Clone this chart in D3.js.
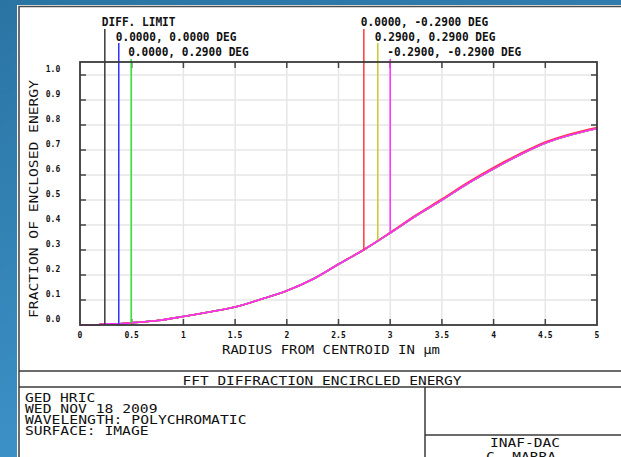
<!DOCTYPE html>
<html>
<head>
<meta charset="utf-8">
<script src="https://cdn.jsdelivr.net/npm/d3@7"></script>
<style>
  body { margin: 0; background: #2f80b2; }
  text { font-family: "DejaVu Sans Mono", monospace; fill: #111; }
</style>
</head>
<body>
<div id="chart"></div>
<script>
// encircled energy curves (radius in microns)
const radius = [0, 0.18, 0.2, 0.38, 0.5, 0.75, 1.0, 1.25, 1.5, 1.75, 2.0, 2.25, 2.5, 2.75, 3.0, 3.25, 3.5, 3.75, 4.0, 4.25, 4.5, 4.75, 5.0];
const eeCommon = [0, 0, 0.004, 0.005, 0.009, 0.018, 0.034, 0.052, 0.072, 0.103, 0.137, 0.183, 0.243, 0.302, 0.368, 0.437, 0.500, 0.566, 0.625, 0.680, 0.728, 0.761, 0.786];
const eeRed = [0, 0, 0.004, 0.005, 0.009, 0.018, 0.034, 0.052, 0.072, 0.103, 0.137, 0.183, 0.244, 0.303, 0.370, 0.440, 0.504, 0.570, 0.630, 0.684, 0.732, 0.765, 0.790];

const fieldNames = ["DIFF. LIMIT", "0.0000, 0.0000 DEG", "0.0000, 0.2900 DEG", "0.0000, -0.2900 DEG", "0.2900, 0.2900 DEG", "-0.2900, -0.2900 DEG"];
const fieldColors = ["#3a3a3a", "#3030ff", "#30dd30", "#ff3a3a", "#c8c830", "#ff30ff"];
const markerRadius = [0.24, 0.375, 0.495, 2.745, 2.88, 3.0];
const markerEE = [0.0, 0.004, 0.008, 0.30, 0.34, 0.37];
const fieldCurves = [eeCommon, eeCommon, eeCommon, eeRed, eeCommon, eeCommon];

const xTicks = [0, 0.5, 1, 1.5, 2, 2.5, 3, 3.5, 4, 4.5, 5];
const yTicks = [0, 0.1, 0.2, 0.3, 0.4, 0.5, 0.6, 0.7, 0.8, 0.9, 1.0];

const infoLines = ["GED HRIC", "WED NOV 18 2009", "WAVELENGTH: POLYCHROMATIC", "SURFACE: IMAGE"];

const W = 621, H = 457;
const plot = { left: 80, right: 597, top: 62, bottom: 325 };

const svg = d3.select("#chart").append("svg")
    .attr("width", W)
    .attr("height", H);

const grad = svg.append("defs").append("linearGradient")
    .attr("id", "bg").attr("x1", 0).attr("y1", 0).attr("x2", 0.3).attr("y2", 1);
grad.append("stop").attr("offset", 0).attr("stop-color", "#2a74a3");
grad.append("stop").attr("offset", 1).attr("stop-color", "#3d93c9");

svg.append("rect").attr("width", W).attr("height", H).attr("fill", "url(#bg)");

// white window
svg.append("rect").attr("x", 17).attr("y", 5).attr("width", W - 17).attr("height", H - 5).attr("fill", "white");
svg.append("path").attr("d", `M19,${H} V6.5 H${W}`).attr("fill", "none").attr("stroke", "#4a4a4a").attr("stroke-width", 1.6);

const x = d3.scaleLinear().domain([0, 5]).range([plot.left, plot.right]);
const y = d3.scaleLinear().domain([0, 1]).range([plot.bottom, 75]);

// grid
svg.append("g").selectAll("line").data(xTicks.slice(1, -1)).join("line")
    .attr("x1", d => x(d)).attr("x2", d => x(d))
    .attr("y1", plot.top).attr("y2", plot.bottom)
    .attr("stroke", "#e6e6e6").attr("stroke-width", 1.5);
svg.append("g").selectAll("line").data(yTicks.slice(1)).join("line")
    .attr("x1", plot.left).attr("x2", plot.right)
    .attr("y1", d => y(d)).attr("y2", d => y(d))
    .attr("stroke", "#e6e6e6").attr("stroke-width", 1.5);

// tick marks on all four sides, pointing inward
const tk = 6;
const ticks = svg.append("g").attr("stroke", "#444").attr("stroke-width", 1.5);
xTicks.slice(1, -1).forEach(d => {
    ticks.append("line").attr("x1", x(d)).attr("x2", x(d)).attr("y1", plot.top).attr("y2", plot.top + tk);
    ticks.append("line").attr("x1", x(d)).attr("x2", x(d)).attr("y1", plot.bottom).attr("y2", plot.bottom - tk);
});
yTicks.slice(1).forEach(d => {
    ticks.append("line").attr("x1", plot.left).attr("x2", plot.left + tk).attr("y1", y(d)).attr("y2", y(d));
    ticks.append("line").attr("x1", plot.right).attr("x2", plot.right - tk).attr("y1", y(d)).attr("y2", y(d));
});

// tick labels
svg.append("g").selectAll("text").data(xTicks).join("text")
    .attr("x", d => x(d)).attr("y", 338)
    .attr("text-anchor", "middle")
    .attr("font-size", 8).attr("font-weight", "bold")
    .text(d => d);
svg.append("g").selectAll("text").data(yTicks).join("text")
    .attr("x", 53).attr("y", d => y(d) - 3)
    .attr("text-anchor", "middle")
    .attr("font-size", 8).attr("font-weight", "bold")
    .text(d => d.toFixed(1));

// curves
const line = d3.line()
    .x((_, i) => x(radius[i]))
    .y(d => y(d))
    .curve(d3.curveMonotoneX);
// draw red before magenta so magenta sits on top like the original
const order = [0, 1, 2, 4, 3, 5];
order.forEach(i => {
    svg.append("path")
        .datum(fieldCurves[i])
        .attr("fill", "none")
        .attr("stroke", fieldColors[i])
        .attr("stroke-width", 1.6)
        .attr("d", line);
});

// marker lines + field labels
const labelTop = [29, 43, 59, 29, 43, 59];
const labelBase = [26, 41, 56, 26, 41, 56];
fieldNames.forEach((name, i) => {
    svg.append("line")
        .attr("x1", x(markerRadius[i])).attr("x2", x(markerRadius[i]))
        .attr("y1", labelTop[i]).attr("y2", y(markerEE[i]))
        .attr("stroke", fieldColors[i]).attr("stroke-width", 1.5);
    svg.append("text")
        .attr("x", x(markerRadius[i]) - 3).attr("y", labelBase[i])
        .attr("font-size", 11.5).attr("font-weight", "bold")
        .attr("textLength", name.length * 6.7).attr("lengthAdjust", "spacingAndGlyphs")
        .text(name);
});

// plot frame
svg.append("rect")
    .attr("x", plot.left).attr("y", plot.top)
    .attr("width", plot.right - plot.left).attr("height", plot.bottom - plot.top)
    .attr("fill", "none").attr("stroke", "#3a3a3a").attr("stroke-width", 1.8);

// axis titles
svg.append("text")
    .attr("x", 331).attr("y", 354)
    .attr("text-anchor", "middle").attr("font-size", 13)
    .attr("textLength", 218).attr("lengthAdjust", "spacingAndGlyphs")
    .text("RADIUS FROM CENTROID IN \u00b5m");
svg.append("text")
    .attr("transform", "translate(38,199) rotate(-90)")
    .attr("text-anchor", "middle").attr("font-size", 13)
    .attr("textLength", 238).attr("lengthAdjust", "spacingAndGlyphs")
    .text("FRACTION OF ENCLOSED ENERGY");

// info box at bottom
const box = svg.append("g").attr("stroke", "#3a3a3a").attr("stroke-width", 1.5);
box.append("line").attr("x1", 19).attr("x2", W).attr("y1", 371).attr("y2", 371);
box.append("line").attr("x1", 19).attr("x2", W).attr("y1", 387).attr("y2", 387);
box.append("line").attr("x1", 425).attr("x2", 425).attr("y1", 387).attr("y2", H);
box.append("line").attr("x1", 425).attr("x2", W).attr("y1", 435).attr("y2", 435);

svg.append("text")
    .attr("x", 322).attr("y", 385)
    .attr("text-anchor", "middle").attr("font-size", 13)
    .attr("textLength", 279).attr("lengthAdjust", "spacingAndGlyphs")
    .text("FFT DIFFRACTION ENCIRCLED ENERGY");

svg.append("g").selectAll("text").data(infoLines).join("text")
    .attr("x", 25).attr("y", (_, i) => 401.5 + i * 11.3)
    .attr("font-size", 11.5)
    .attr("textLength", d => d.length * 8.9 - 1).attr("lengthAdjust", "spacingAndGlyphs")
    .text(d => d);

svg.append("text")
    .attr("x", 525).attr("y", 447)
    .attr("text-anchor", "middle").attr("font-size", 12)
    .attr("textLength", 70).attr("lengthAdjust", "spacingAndGlyphs")
    .text("INAF-DAC");
svg.append("text")
    .attr("x", 521).attr("y", 461)
    .attr("text-anchor", "middle").attr("font-size", 12)
    .attr("textLength", 70).attr("lengthAdjust", "spacingAndGlyphs")
    .text("C. MARRA");
</script>
</body>
</html>
